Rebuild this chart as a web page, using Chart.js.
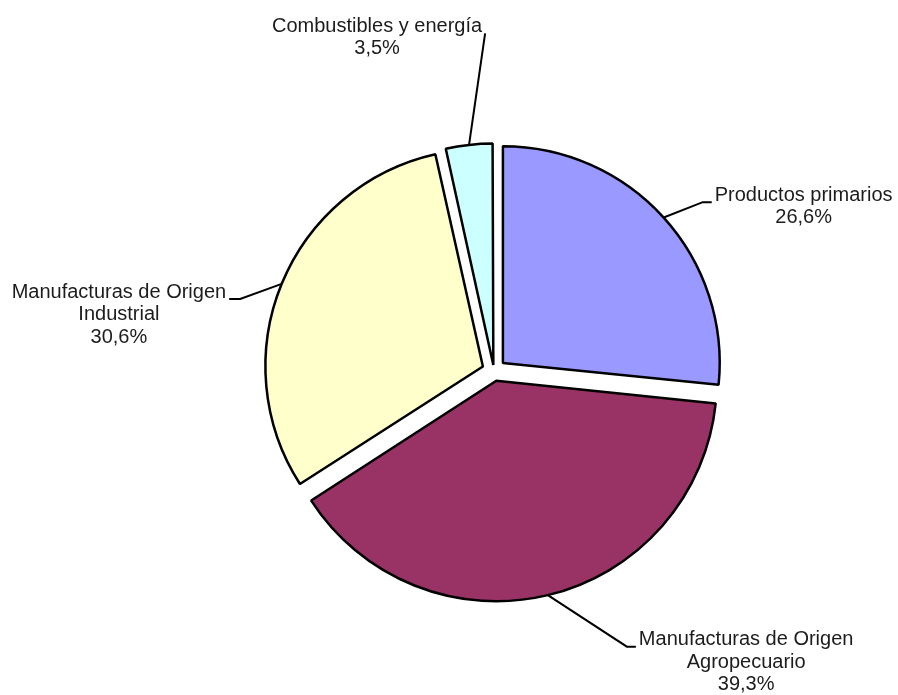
<!DOCTYPE html>
<html>
<head>
<meta charset="utf-8">
<script src="https://cdn.jsdelivr.net/npm/chart.js@4.4.1/dist/chart.umd.min.js"></script>
<style>
    html, body { margin: 0; padding: 0; background: #fff; }
    #wrap { width: 898px; height: 695px; position: relative; }
</style>
</head>
<body>
<div id="wrap"><canvas id="pie"></canvas></div>
<script>
const labels = ['Productos primarios', 'Manufacturas de Origen\nAgropecuario', 'Manufacturas de Origen\nIndustrial', 'Combustibles y energía'];
const values = [26.6, 39.3, 30.6, 3.5];
const colors = ['#9999FF', '#993366', '#FFFFCC', '#CCFFFF'];

// where each leader line bends, in pie radii from the centre
const bendX = [0.963, 0.613, -1.171, -0.041];
const bendY = [-0.779, 1.272, -0.332, -1.558];
const tail = [9, 9, 11, 0];
const side = [1, 1, -1, -1];

function pct(v) {
    return v.toFixed(1).replace('.', ',') + '%';
}

const outsideLabels = {
    id: 'outsideLabels',
    afterDatasetsDraw(chart) {
        const ctx = chart.ctx;
        const meta = chart.getDatasetMeta(0);
        ctx.save();
        ctx.font = '20px "Liberation Sans", Arial, sans-serif';
        ctx.fillStyle = '#1c1c1c';
        ctx.strokeStyle = '#000';
        ctx.lineWidth = 2;
        ctx.textAlign = 'center';
        ctx.textBaseline = 'middle';
        meta.data.forEach((arc, i) => {
            const p = arc.getProps(['x', 'y', 'startAngle', 'endAngle', 'outerRadius', 'circumference']);
            const shift = (arc.options.offset || 0) / 4;
            const grow = shift * (1 - Math.sin(Math.min(Math.PI, p.circumference)));
            const mid = (p.startAngle + p.endAngle) / 2;
            const r = p.outerRadius + shift + grow;
            const ax = p.x + Math.cos(mid) * r;
            const ay = p.y + Math.sin(mid) * r;
            const bx = p.x + bendX[i] * p.outerRadius;
            const by = p.y + bendY[i] * p.outerRadius;
            const ex = bx + tail[i] * side[i];
            ctx.beginPath();
            ctx.moveTo(ax, ay);
            ctx.lineTo(bx, by);
            ctx.lineTo(ex, by);
            ctx.stroke();
            const lines = labels[i].split('\n').concat(pct(values[i]));
            const w = Math.max(...lines.map(l => ctx.measureText(l).width));
            const cx = ex + side[i] * (3 + w / 2);
            lines.forEach((l, k) => ctx.fillText(l, cx, by - 7 + k * 22.5));
        });
        ctx.restore();
    }
};

let pieChart = new Chart(document.getElementById('pie'), {
    type: 'pie',
    data: {
        labels: labels,
        datasets: [{
            data: values,
            backgroundColor: colors,
            borderColor: '#000',
            borderWidth: 2.5,
            offset: [48, 40, 48, 24],
            hoverOffset: 0
        }]
    },
    options: {
        responsive: true,
        maintainAspectRatio: false,
        animation: false,
        layout: {
            padding: { left: 252, right: 162, top: 129, bottom: 82 }
        },
        plugins: {
            legend: { display: false },
            tooltip: { enabled: false }
        }
    },
    plugins: [outsideLabels]
});
</script>
</body>
</html>
